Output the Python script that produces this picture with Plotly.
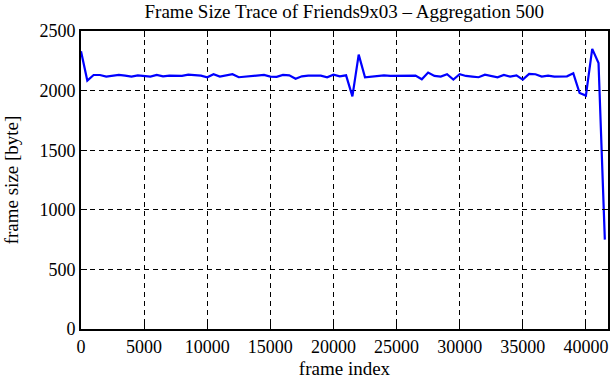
import plotly.graph_objects as go

frame_index = [i * 500 for i in range(84)]
frame_size = [
    2330, 2084, 2131, 2131, 2117, 2123, 2131, 2126, 2117, 2128,
    2123, 2117, 2131, 2120, 2126, 2123, 2123, 2134, 2128, 2126,
    2112, 2137, 2117, 2126, 2137, 2112, 2117, 2123, 2123, 2131,
    2117, 2115, 2131, 2128, 2100, 2120, 2126, 2123, 2126, 2112,
    2134, 2120, 2128, 1952, 2302, 2112, 2117, 2120, 2128, 2123,
    2123, 2126, 2126, 2126, 2095, 2151, 2123, 2117, 2137, 2092,
    2137, 2123, 2117, 2112, 2134, 2123, 2112, 2131, 2117, 2128,
    2092, 2140, 2137, 2117, 2126, 2117, 2120, 2120, 2145, 1980,
    1958, 2350, 2232, 750,
]
x_ticks = [0, 5000, 10000, 15000, 20000, 25000, 30000, 35000, 40000]
y_ticks = [0, 500, 1000, 1500, 2000, 2500]

FONT = "Liberation Serif, Times New Roman, serif"

fig = go.Figure()
fig.add_trace(go.Scatter(
    x=frame_index, y=frame_size, mode="lines",
    line=dict(color="#0000FF", width=2.2), showlegend=False,
))

axis_common = dict(
    showline=True, linecolor="black", linewidth=2, mirror="ticks",
    ticks="inside", ticklen=6, tickcolor="black", tickwidth=1,
    showgrid=True, gridcolor="black", gridwidth=1, griddash="5px,4px",
    zeroline=False, automargin=False,
    tickfont=dict(family=FONT, size=18, color="black"),
)

fig.update_xaxes(
    range=[0, 41750], tickvals=x_ticks, ticktext=[str(v) for v in x_ticks],
    title=dict(text="frame index", font=dict(family=FONT, size=19, color="black"), standoff=6),
    **axis_common,
)
fig.update_yaxes(
    range=[0, 2500], tickvals=y_ticks, ticktext=[str(v) for v in y_ticks],
    title=dict(text="frame size [byte]", font=dict(family=FONT, size=19, color="black"), standoff=16),
    **axis_common,
)

fig.update_layout(
    width=611, height=380,
    margin=dict(l=81, r=3, t=31, b=51),
    paper_bgcolor="white", plot_bgcolor="white",
    title=dict(
        text="Frame Size Trace of Friends9x03 \u2013 Aggregation 500",
        x=0.5635, xanchor="center", y=0.971, yanchor="middle",
        font=dict(family=FONT, size=19, color="black"),
    ),
)

fig.write_html(
    "out.html",
    config={"displayModeBar": False},
    post_script="document.body.style.margin='0';document.body.style.overflow='hidden';",
)
